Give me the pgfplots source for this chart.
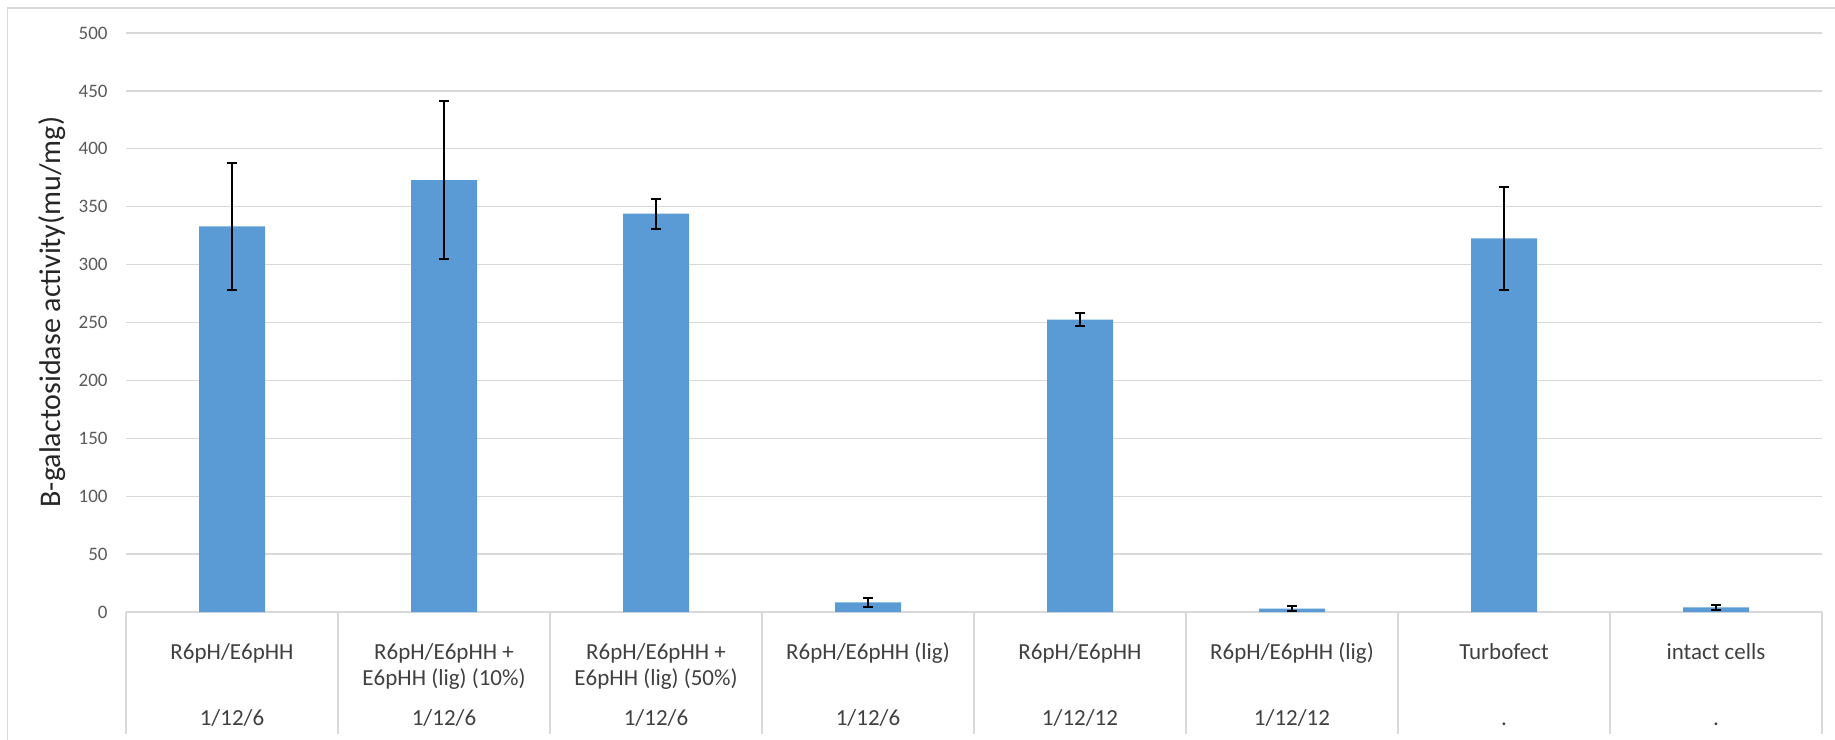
\documentclass[border=0pt]{standalone}
\usepackage{pgfplots}
\pgfplotsset{compat=1.18}
\usepackage{fontspec}
\setmainfont{Carlito}
\definecolor{barblue}{HTML}{5B9BD5}
\definecolor{gridgray}{HTML}{D9D9D9}
\definecolor{tickgray}{HTML}{595959}
\definecolor{labgray}{HTML}{404040}
\newcommand{\cl}[1]{\begin{tabular}[t]{@{}c@{}}#1\end{tabular}}
\pgfplotstableread{
x y e
0 333 55
1 373 68
2 344 13
3 8.4 4
4 252.5 5.3
5 2.9 1.9
6 322.7 44.3
7 4 2.3
}\datatable
\begin{document}
\begin{tikzpicture}
\useasboundingbox (0,0) rectangle (917.5pt,-369.5pt);
\draw[gridgray, line width=0.75pt] (3.75pt,-371pt) -- (3.75pt,-4pt) -- (919pt,-4pt);
\begin{axis}[
  at={(63pt,-306pt)}, anchor=south west,
  scale only axis, width=848pt, height=289.5pt,
  xmin=-0.5, xmax=7.5, ymin=0, ymax=500,
  ybar, bar width=33pt,
  axis line style={draw=none},
  ytick={0,50,...,500},
  ymajorgrids, grid style={draw=gridgray, line width=0.65pt},
  xtick={0,...,7},
  xticklabels={
    {\cl{R6pH/E6pHH}},
    {\cl{R6pH/E6pHH +\\E6pHH (lig) (10\%)}},
    {\cl{R6pH/E6pHH +\\E6pHH (lig) (50\%)}},
    {\cl{R6pH/E6pHH (lig)}},
    {\cl{R6pH/E6pHH}},
    {\cl{R6pH/E6pHH (lig)}},
    {\cl{Turbofect}},
    {\cl{intact cells}}},
  extra x ticks={0,...,7},
  extra x tick labels={1/12/6,1/12/6,1/12/6,1/12/6,1/12/12,1/12/12,.,.},
  extra x tick style={grid=none, major tick length=0pt, xticklabel style={yshift=-33pt}},
  minor xtick={-0.5,0.5,...,7.5},
  minor tick length=61pt,
  tick align=outside,
  xtick pos=bottom, ytick pos=left,
  major tick length=0pt,
  minor tick style={draw=gridgray, line width=0.75pt},
  xticklabel style={anchor=base, yshift=-23.75pt, inner sep=0pt, text=labgray,
    font=\fontsize{11.5}{12.8}\selectfont},
  yticklabel style={anchor=east, inner sep=0pt, xshift=-9pt, text=tickgray,
    font=\fontsize{9.5}{11}\selectfont},
  /pgf/number format/assume math mode=true,
  ylabel={B-galactosidase activity(mu/mg)},
  ylabel style={at={(axis description cs:-0.0436,0.518)}, anchor=center,
    font=\fontsize{15}{18}\selectfont, text=black!85},
]
\addplot[fill=barblue, draw=none,
  error bars/.cd, y dir=both, y explicit,
  error bar style={line width=1pt, black},
  error mark options={rotate=90, mark size=2.7pt, line width=1pt, black}]
  table[x=x, y=y, y error=e] {\datatable};
\end{axis}
\end{tikzpicture}
\end{document}
